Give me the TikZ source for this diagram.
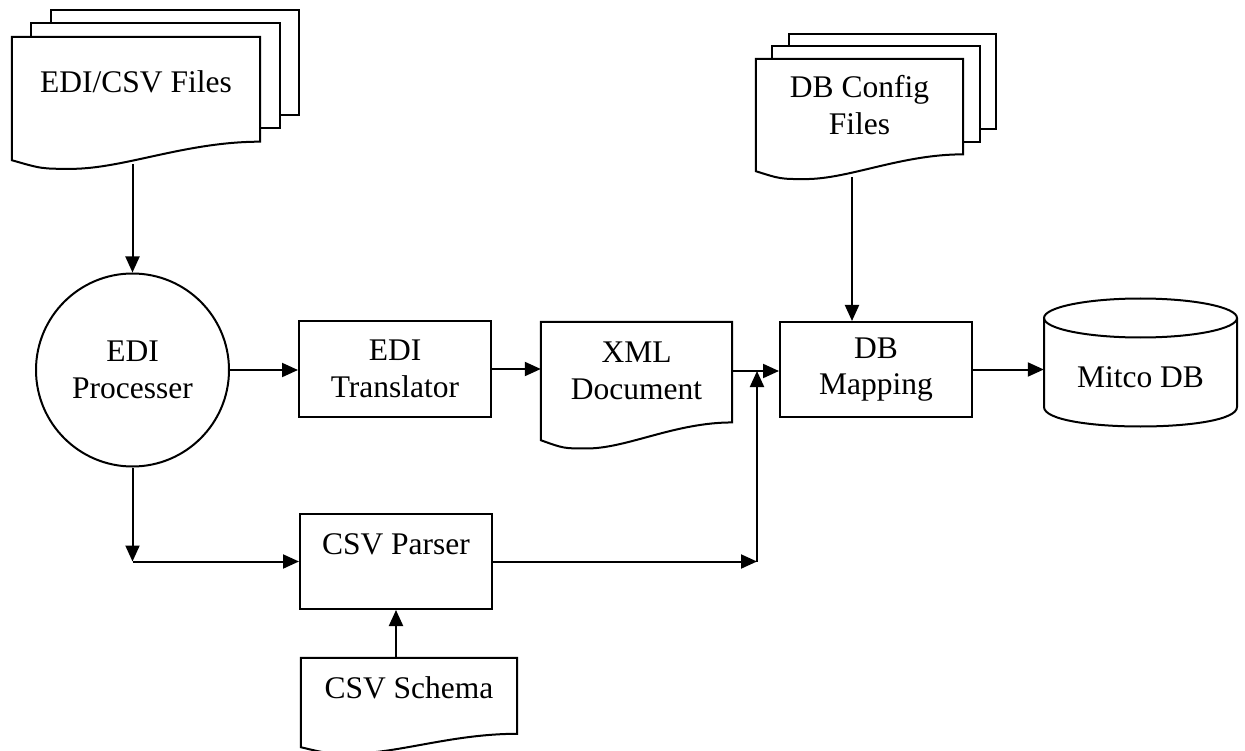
\documentclass[tikz,border=0pt]{standalone}
\usepackage{fontspec}
\setmainfont{Liberation Serif}
\usetikzlibrary{arrows.meta,calc}

% document outline below a node: wavy bottom, #2 = part of the sheet below the node
\newcommand{\docwave}[2]{%
  \draw[line] let \p1=(#1.north west), \p2=(#1.south east),
      \n1={\x2-\x1}, \n2={\y2-#2}, \n3={\y1-\n2} in
    (\x1,\y1) -- (\x2,\y1) -- ({\x2},{(\n2+0.15*\n3)*1pt})
    .. controls ({\x1+0.7*\n1*1pt},{(\n2+0.15*\n3)*1pt})
            and ({\x1+0.45*\n1*1pt},{(\n2-0.07*\n3)*1pt})
    .. ({\x1+0.24*\n1*1pt},{(\n2-0.07*\n3)*1pt})
    .. controls ({\x1+0.12*\n1*1pt},{(\n2-0.07*\n3)*1pt})
    .. ({\x1},{\n2*1pt}) -- cycle;}

% two sheets behind a document, shifted by (#3,#4)
\newcommand{\docstack}[4]{%
  \foreach \k in {1,2}{
    \draw[line] let \p1=(#1.north west), \p2=(#1.south east),
        \n2={\y2-#2}, \n3={\y1-\n2} in
      ({\x1+\k*#3},{\y1+(\k-1)*#4}) -- ({\x1+\k*#3},{\y1+\k*#4})
      -- ({\x2+\k*#3},{\y1+\k*#4})
      -- ({\x2+\k*#3},{(\n2+0.15*\n3)*1pt+\k*#4})
      -- ({\x2+(\k-1)*#3},{(\n2+0.15*\n3)*1pt+\k*#4});}}

\begin{document}
\begin{tikzpicture}[
  x=1pt,
  y=-1pt,
  line/.style={draw=black, line width=2pt},
  arrow/.style={draw=black, line width=2pt, -{Triangle[length=16pt,width=14pt]}},
  box/.style={line, rectangle, minimum width=192pt, minimum height=95pt},
  doc/.style={rectangle},
  every node/.style={font=\fontsize{31.5}{36.5}\selectfont, inner sep=0, align=center}
]
\useasboundingbox (0,0) rectangle (1245,751);
\fill[white] (0,0) rectangle (1245,751);
\clip (0,0) rectangle (1245,751);

% Input documents
\node[doc, minimum width=248pt, minimum height=90pt] (files) at (136,82) {EDI/CSV Files};
\docwave{files}{33pt}
\docstack{files}{33pt}{19.5pt}{13.5pt}

\node[doc, minimum width=207pt, minimum height=92pt] (dbcfg) at (859.5,105) {DB Config\\Files};
\docwave{dbcfg}{20pt}
\docstack{dbcfg}{20pt}{16.5pt}{12.5pt}

% Processing chain
\node[line, circle, minimum size=193pt] (proc) at (132.5,370) {EDI\\Processer};
\node[box] (trans) at (395,369) {EDI\\Translator};

\node[doc, minimum width=191pt, minimum height=98pt] (xml) at (636.5,371) {XML\\Document};
\docwave{xml}{20pt}

\node[box] (dbmap) at (876,369.5) {DB\\Mapping};

\node[minimum width=193pt] (mitco) at (1140.5,377) {Mitco DB};
\draw[line] (1044,318) -- (1044,407) .. controls (1044,433) and (1237,433) .. (1237,407) -- (1237,318);
\draw[line] (1140.5,318) ellipse [x radius=96.5, y radius=19.5];

\node[box, text depth=34pt] (parser) at (396,561.5) {CSV Parser};

\node[doc, minimum width=216pt, minimum height=59pt] (schema) at (409,687.5) {CSV Schema};
\docwave{schema}{30pt}

% Connections
\draw[arrow] ([yshift=-37pt]files.south -| proc.north) -- (proc.north);
\draw[arrow] ([xshift=-7.5pt,yshift=-26pt]dbcfg.south) -- ([xshift=-7.5pt]dbcfg.south |- dbmap.north);

\draw[arrow] (proc.east) -- (proc.east -| trans.west);
\draw[arrow] (trans.east) -- (trans.east -| xml.west);
\draw[arrow] (xml.east) -- (xml.east -| dbmap.west);
\draw[arrow] (dbmap.east) -- (dbmap.east -| mitco.west);

\coordinate (split) at (proc.south |- parser.west);
\draw[arrow] (proc.south) -- (split);
\draw[arrow] (split) -- (parser.west);

\coordinate (merge) at (757,561.5);
\draw[arrow] (parser.east) -- (merge);
\draw[arrow] (merge) -- (merge |- xml.east);

\draw[arrow] (parser.south |- schema.north) -- (parser.south);

\end{tikzpicture}
\end{document}
